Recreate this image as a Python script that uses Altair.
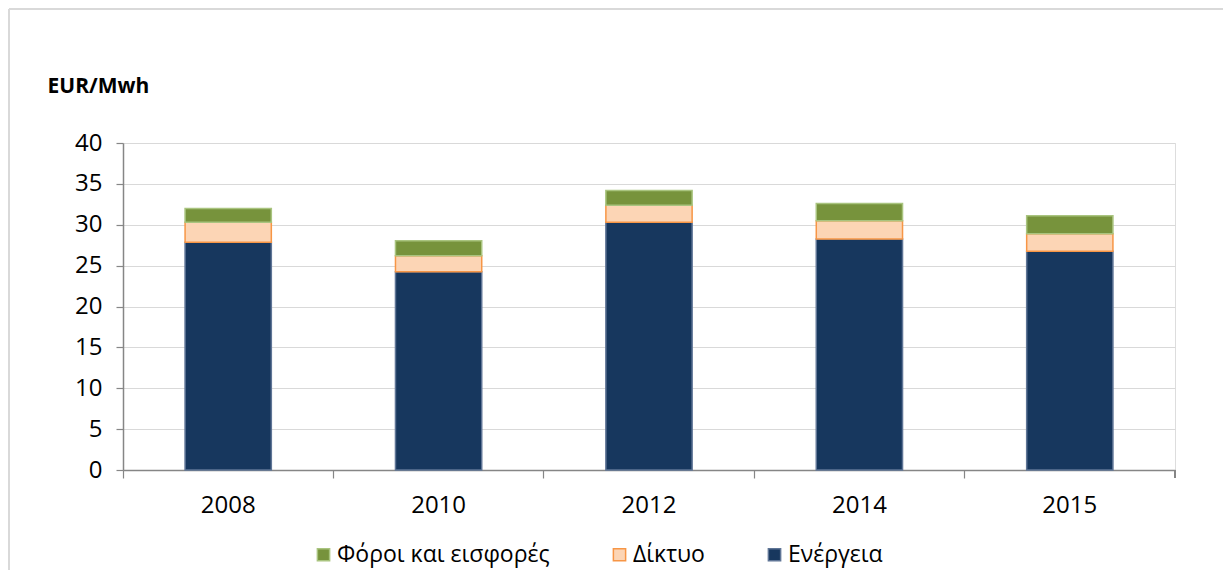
import altair as alt
import pandas as pd

# ---- data ----
years = ["2008", "2010", "2012", "2014", "2015"]
energy = [27.85, 24.25, 30.3, 28.25, 26.75]
network = [2.45, 1.95, 2.1, 2.25, 2.15]
taxes = [1.7, 1.85, 1.8, 2.1, 2.2]

series = ["Φόροι και εισφορές", "Δίκτυο", "Ενέργεια"]
fill_colors = ["#77933C", "#FCD5B5", "#17375E"]
stroke_colors = ["#A9C47F", "#F79646", "#5F7596"]
y_ticks = [0, 5, 10, 15, 20, 25, 30, 35, 40]

rows = []
for i, yr in enumerate(years):
    rows.append({"year": yr, "series": "Ενέργεια", "value": energy[i], "ord": 0})
    rows.append({"year": yr, "series": "Δίκτυο", "value": network[i], "ord": 1})
    rows.append({"year": yr, "series": "Φόροι και εισφορές", "value": taxes[i], "ord": 2})
df = pd.DataFrame(rows)

FONT = "Open Sans"
W, H = 1052, 327
PAD_L, PAD_T, PAD_R, PAD_B = 115, 135, 48, 100
AXIS_GRAY = "#868686"
GRID_GRAY = "#D9D9D9"

legend = alt.Legend(
    title=None, orient="none", legendX=189, legendY=400, direction="horizontal",
    symbolType="square", symbolSize=150, symbolStrokeWidth=1.5,
    labelFontSize=23, labelFont=FONT, labelColor="#000000", columnPadding=58,
    symbolOffset=0, labelOffset=2, labelLimit=0,
)

bars = alt.Chart(df).mark_bar(strokeWidth=1.5).encode(
    x=alt.X("year:N", sort=years,
            scale=alt.Scale(domain=years, paddingInner=0.59, paddingOuter=0.295),
            axis=alt.Axis(title=None, orient="bottom", labelAngle=0, ticks=False, grid=False,
                          domainColor=AXIS_GRAY, domainWidth=1.5,
                          labelFontSize=24, labelFont=FONT, labelColor="#000000",
                          labelPadding=23)),
    y=alt.Y("value:Q", stack="zero", scale=alt.Scale(domain=[0, 40], nice=False),
            axis=alt.Axis(values=y_ticks, title="EUR/Mwh", titleAngle=0,
                          titleX=-76, titleY=-51, titleAlign="left",
                          titleBaseline="alphabetic", titleFontWeight="bold",
                          titleFontSize=21, titleFont=FONT, titleColor="#000000",
                          gridColor=GRID_GRAY, gridWidth=1.2,
                          tickColor=AXIS_GRAY, tickSize=7, tickWidth=1.2,
                          domainColor=AXIS_GRAY, domainWidth=1.5,
                          labelPadding=14, labelFontSize=24, labelFont=FONT,
                          labelColor="#000000")),
    fill=alt.Fill("series:N", scale=alt.Scale(domain=series, range=fill_colors), legend=legend),
    stroke=alt.Stroke("series:N", scale=alt.Scale(domain=series, range=stroke_colors), legend=legend),
    order=alt.Order("ord:Q", sort="ascending"),
)

# tick marks at category boundaries (axis decoration only)
tick_axis = alt.Chart(df).mark_bar(opacity=0).encode(
    x=alt.X("year:N", sort=years,
            scale=alt.Scale(domain=years, paddingInner=0, paddingOuter=0),
            axis=alt.Axis(title=None, orient="bottom", labels=False, domain=False, grid=False,
                          ticks=True, tickSize=8, tickColor=AXIS_GRAY, tickWidth=1.2,
                          bandPosition=0)),
)

end_tick = alt.Chart(df).mark_rule(color=AXIS_GRAY, strokeWidth=1.2).encode(
    x=alt.value(W), y=alt.value(H), y2=alt.value(H + 8)
)

frame_top = alt.Chart(df).mark_rule(color="#D9D9D9", strokeWidth=2).encode(
    x=alt.value(-PAD_L + 1), x2=alt.value(W + PAD_R), y=alt.value(-PAD_T + 1)
)
frame_left = alt.Chart(df).mark_rule(color="#D9D9D9", strokeWidth=2).encode(
    x=alt.value(-PAD_L + 1), y=alt.value(-PAD_T + 1), y2=alt.value(H + PAD_B)
)

chart = alt.layer(tick_axis, bars, end_tick, frame_top, frame_left).resolve_scale(
    x="independent"
).resolve_axis(
    x="independent"
).properties(
    width=W, height=H,
    autosize=alt.AutoSizeParams(type="none"),
    padding={"left": PAD_L, "top": PAD_T, "right": PAD_R, "bottom": PAD_B},
    background="#FFFFFF",
).configure_view(stroke=None).configure(font=FONT)

chart.save("out.html", embed_options={"renderer": "svg", "actions": False})
